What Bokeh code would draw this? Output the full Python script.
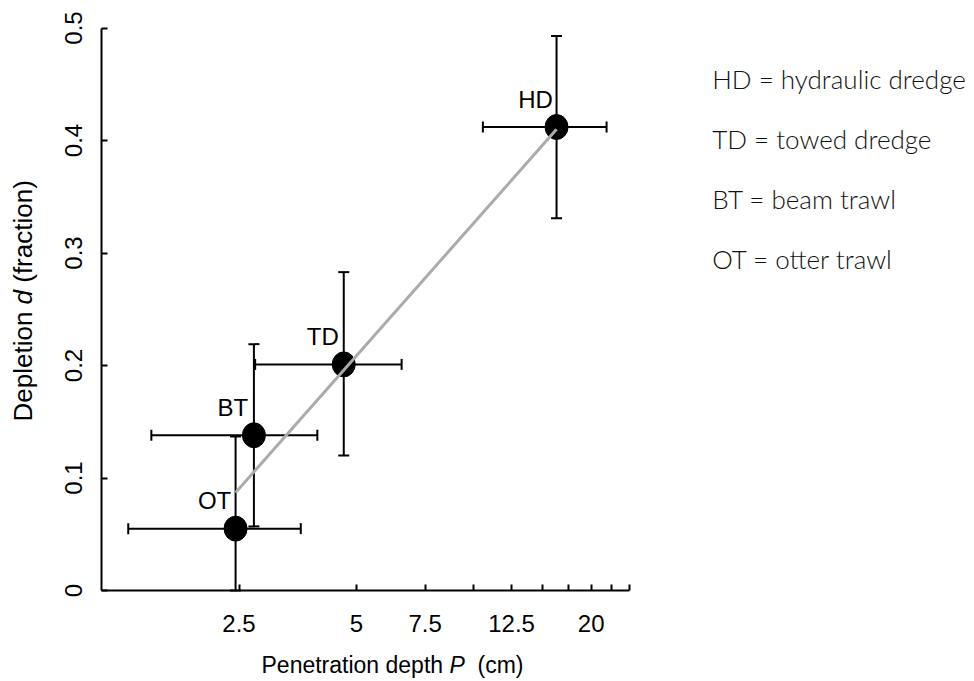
import math
from bokeh.plotting import figure
from bokeh.models import ColumnDataSource, FixedTicker, Range1d, Label
from bokeh.core.properties import value
from bokeh.embed import file_html
from bokeh.resources import INLINE

# ---------------- data ----------------
gear = ["OT", "BT", "TD", "HD"]
depth = [2.45, 2.73, 4.64, 16.3]          # penetration depth P (cm)
depth_lo = [1.30, 1.49, 2.75, 10.55]
depth_hi = [3.60, 3.97, 6.53, 21.9]
depletion = [0.055, 0.138, 0.201, 0.412]  # depletion d (fraction)
depletion_lo = [0.0, 0.057, 0.120, 0.331]
depletion_hi = [0.137, 0.219, 0.283, 0.493]
fit_depth = [2.45, 16.3]
fit_depletion = [0.087, 0.41]

x_ticks = [2.5, 5, 7.5, 10, 12.5, 15, 17.5, 20, 22.5, 25]
x_tick_labels = ["2.5", "5", "7.5", "", "12.5", "", "", "20", "", ""]
x_axis_start = 1.108
y_ticks = [0, 0.1, 0.2, 0.3, 0.4, 0.5]
y_tick_labels = ["0", "0.1", "0.2", "0.3", "0.4", "0.5"]
legend_lines = ["HD = hydraulic dredge", "TD = towed dredge",
                "BT = beam trawl", "OT = otter trawl"]

# ---------------- layout (canvas pixel <-> data) ----------------
W, H = 972, 681
PX_PER_DECADE = 390.0      # horizontal pixels per decade of P
PX_X25 = 238.5             # pixel column of P = 2.5
PX_PER_UNIT = 1125.0       # vertical pixels per unit of d
PY_Y0 = 590.0              # pixel row of d = 0


def px2x(px):
    return 10 ** (math.log10(2.5) + (px - PX_X25) / PX_PER_DECADE)


def py2y(py):
    return (PY_Y0 - py) / PX_PER_UNIT


p = figure(width=W, height=H, x_axis_type="log",
           x_range=Range1d(px2x(0), px2x(W)), y_range=Range1d(py2y(H), py2y(0)),
           output_backend="svg", toolbar_location=None, min_border=0,
           min_border_left=0, min_border_right=0, min_border_top=0, min_border_bottom=0)
p.outline_line_color = None
p.grid.visible = False
p.background_fill_color = "white"
p.border_fill_color = "white"

AX_FONT = "Liberation Sans"

xa = p.xaxis[0]
xa.fixed_location = y_ticks[0]
xa.ticker = FixedTicker(ticks=x_ticks, minor_ticks=[])
xa.major_label_overrides = {float(t): l for t, l in zip(x_ticks, x_tick_labels)}
xa.bounds = (x_axis_start, x_ticks[-1])
xa.axis_line_width = 2
xa.axis_line_color = "black"
xa.major_tick_in = 6
xa.major_tick_out = 0
xa.major_tick_line_width = 2
xa.minor_tick_in = 0
xa.minor_tick_out = 0
xa.major_label_text_font = AX_FONT
xa.major_label_text_font_size = "24px"
xa.major_label_text_color = "black"
xa.major_label_standoff = 24

ya = p.yaxis[0]
ya.fixed_location = x_axis_start
ya.ticker = FixedTicker(ticks=y_ticks, minor_ticks=[])
ya.major_label_overrides = {float(t): l for t, l in zip(y_ticks, y_tick_labels)}
ya.bounds = (y_ticks[0], y_ticks[-1])
ya.axis_line_width = 2
ya.axis_line_color = "black"
ya.major_tick_in = 6
ya.major_tick_out = 0
ya.major_tick_line_width = 2
ya.minor_tick_in = 0
ya.minor_tick_out = 0
ya.major_label_text_font = AX_FONT
ya.major_label_text_font_size = "24px"
ya.major_label_text_color = "black"
ya.major_label_orientation = "vertical"
ya.major_label_standoff = 19

src = ColumnDataSource(dict(gear=gear, depth=depth, depth_lo=depth_lo, depth_hi=depth_hi,
                            depletion=depletion, depletion_lo=depletion_lo,
                            depletion_hi=depletion_hi))

# error bars
p.segment(x0="depth", y0="depletion_lo", x1="depth", y1="depletion_hi", source=src,
          line_color="black", line_width=2)
p.segment(x0="depth_lo", y0="depletion", x1="depth_hi", y1="depletion", source=src,
          line_color="black", line_width=2)
for ycol in ("depletion_lo", "depletion_hi"):
    p.scatter(x="depth", y=ycol, source=src, marker="dash", size=11,
              line_color="black", line_width=2)
for xcol in ("depth_lo", "depth_hi"):
    p.scatter(x=xcol, y="depletion", source=src, marker="dash", size=11, angle=math.pi / 2,
              line_color="black", line_width=2)

# points
p.ellipse(x="depth", y="depletion", source=src, width=23, height=25,
          width_units="screen", height_units="screen", fill_color="black", line_color="black")

# fitted line
p.line(fit_depth, fit_depletion, line_color="#ababab", line_width=3)

# point labels
p.text(x="depth", y="depletion", text="gear", source=src, x_offset=-21, y_offset=-28,
       text_align="center", text_baseline="middle", text_font=value(AX_FONT),
       text_font_size="24px", text_color="black")


def add_label(px, py, text, size, italic=False, angle=0.0, font=AX_FONT, color="black"):
    p.add_layout(Label(x=px2x(px), y=py2y(py), text=text, text_font=font,
                       text_font_size=size, text_font_style="italic" if italic else "normal",
                       text_align="left", text_baseline="middle", angle=angle,
                       text_color=color))


# x title: Penetration depth P (cm)
XT_Y = 664
add_label(261, XT_Y, "Penetration depth", "23px")
add_label(449, XT_Y, "P", "23px", italic=True)
add_label(477, XT_Y, "(cm)", "23px")

# y title (rotated, reading upwards): Depletion d (fraction)
FS = 26
YT_X = 22
y_start = 421
add_label(YT_X, y_start, "Depletion", f"{FS}px", angle=math.pi / 2)
y_d = y_start - 4.224 * FS - 0.278 * FS
add_label(YT_X, y_d, "d", f"{FS}px", italic=True, angle=math.pi / 2)
y_f = y_d - 0.556 * FS - 0.278 * FS
add_label(YT_X, y_f, "(fraction)", f"{FS}px", angle=math.pi / 2)

# legend text
for i, line in enumerate(legend_lines):
    add_label(711.7, 78.7 + 60 * i, line, "26px", font="Lato Light", color="#111111")

html = file_html(p, INLINE)
open("out.html", "w").write(html)
